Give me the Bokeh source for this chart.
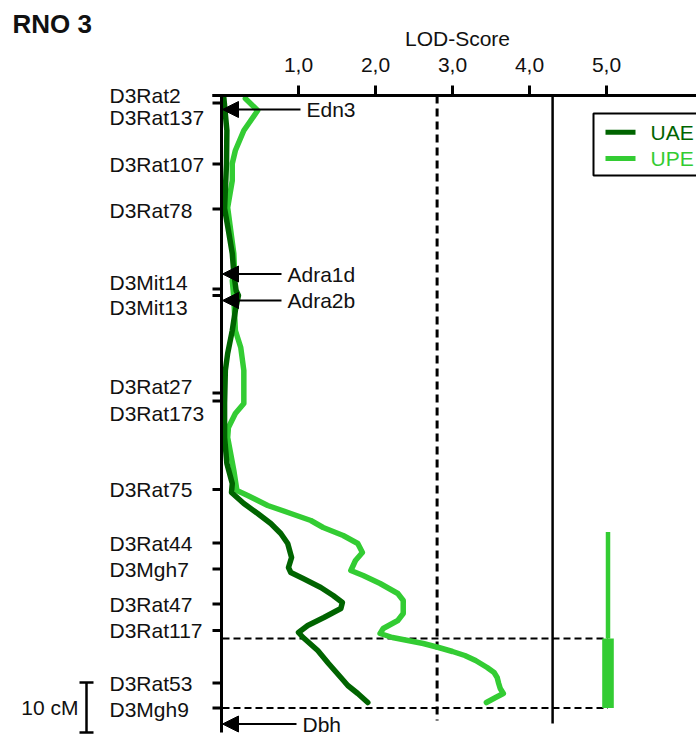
from bokeh.plotting import figure
from bokeh.models import Range1d, Arrow, NormalHead, ColumnDataSource
from bokeh.core.properties import value
from bokeh.embed import file_html
from bokeh.resources import INLINE

# ---------------- data ----------------
title_text = "RNO 3"
x_axis_title = "LOD-Score"

marker_names = ["D3Rat2", "D3Rat137", "D3Rat107", "D3Rat78", "D3Mit14", "D3Mit13",
                "D3Rat27", "D3Rat173", "D3Rat75", "D3Rat44", "D3Mgh7", "D3Rat47",
                "D3Rat117", "D3Rat53", "D3Mgh9"]
marker_cm = [0.0, 1.5, 13.7, 22.7, 38.7, 40.0, 59.5, 61.1, 78.8, 89.5, 94.7, 101.7,
             107.0, 117.5, 122.5]

gene_names = ["Edn3", "Adra1d", "Adra2b", "Dbh"]
gene_cm = [2.8, 35.7, 41.0, 125.7]

lod_ticks = [1, 2, 3, 4, 5]
lod_tick_labels = ["1,0", "2,0", "3,0", "4,0", "5,0"]

series_names = ["UAE", "UPE"]

uae_cm = [0.4, 7.0, 13.6, 19.0, 22.6, 27.0, 31.6, 35.6, 39.0, 40.0, 43.0, 47.0, 51.6,
          55.0, 61.6, 68.4, 73.6, 77.6, 79.4, 81.6, 83.6, 85.6, 87.6, 89.6, 92.4, 94.4,
          95.4, 96.6, 98.4, 100.0, 101.4, 102.6, 104.4, 106.0, 107.4, 108.4, 111.0,
          113.6, 116.4, 118.0, 119.6, 121.4]
uae_lod = [0.03, 0.07, 0.065, 0.05, 0.04, 0.09, 0.14, 0.16, 0.19, 0.22, 0.18, 0.14, 0.08,
           0.05, 0.04, 0.04, 0.07, 0.14, 0.13, 0.29, 0.47, 0.64, 0.77, 0.86, 0.91, 0.87,
           0.90, 1.06, 1.29, 1.45, 1.57, 1.55, 1.33, 1.12, 1.00, 1.06, 1.25,
           1.39, 1.55, 1.64, 1.77, 1.90]

upe_cm = [0.6, 3.0, 7.0, 11.0, 13.6, 17.0, 22.4, 27.0, 31.6, 35.6, 37.0, 40.4, 47.0,
          50.4, 55.0, 61.6, 63.6, 66.4, 68.4, 75.0, 79.0, 80.0, 82.0, 83.6, 85.0, 86.4,
          88.0, 89.6, 91.4, 93.0, 95.0, 96.0, 97.6, 99.6, 101.0, 103.6, 105.0, 106.6,
          107.6, 108.4, 109.0, 109.6, 110.4, 111.2, 112.0, 113.0, 114.4, 115.4, 116.4,
          117.6, 118.6, 119.6, 120.4, 121.4]
upe_lod = [0.31, 0.47, 0.29, 0.18, 0.14, 0.14, 0.08, 0.12, 0.16, 0.17, 0.14, 0.16, 0.18,
           0.25, 0.29, 0.29, 0.18, 0.09, 0.08, 0.16, 0.20, 0.34, 0.60, 0.90, 1.16, 1.32,
           1.58, 1.77, 1.83, 1.74, 1.68, 1.84, 2.06, 2.29, 2.36, 2.36, 2.29, 2.10,
           2.06, 2.22, 2.42, 2.62, 2.82, 3.00, 3.16, 3.30, 3.45, 3.54, 3.58,
           3.60, 3.62, 3.66, 3.56, 3.44]

threshold_suggestive = 2.8
threshold_significant = 4.3
ci_inner = [108.6, 122.5]
ci_outer = [87.3, 122.5]
chrom_length = 127.4
scale_bar_cm = 10
scale_bar_text = "10 cM"

# ---------------- layout (pixels) ----------------
W, H = 696, 734
PX_LOD = 77.0
PX_CM = 5.0
ORIGIN_X = 221.0
ORIGIN_Y = 95.0


def lx(px):
    return (px - ORIGIN_X) / PX_LOD


def cy(px):
    return (px - ORIGIN_Y) / PX_CM


FONT = value("Liberation Sans")
FS = "21px"
TXT = "#111111"
DARK = "#006400"
LIGHT = "#33CC33"

label_nudge_px = [0, 14, 0, 1, -7, 12, -7, 12, 0, 0, 0, 0, 0, 0, 1]
gene_text_px = [306, 287, 287, 302]
TICK_LEN = 9
BAR_X = lx(607.5)

p = figure(width=W, height=H, x_range=Range1d(lx(0), lx(W)), y_range=Range1d(cy(H), cy(0)),
           output_backend="svg", toolbar_location=None, min_border=0,
           x_axis_location=None, y_axis_location=None, outline_line_color=None,
           background_fill_color="white", border_fill_color="white")
p.xgrid.visible = False
p.ygrid.visible = False

# threshold lines
p.segment(x0=[threshold_suggestive], y0=[0], x1=[threshold_suggestive], y1=[cy(720)],
          line_color="black", line_width=3, line_dash="8 5")
p.segment(x0=[threshold_significant], y0=[0], x1=[threshold_significant], y1=[cy(723)],
          line_color="black", line_width=2.5)

# confidence interval dashed guides
p.segment(x0=[lx(222)] * 2, y0=ci_inner, x1=[BAR_X] * 2, y1=ci_inner,
          line_color="black", line_width=1.8, line_dash="7 4")

# confidence interval bars
p.segment(x0=[BAR_X], y0=[ci_outer[0]], x1=[BAR_X], y1=[ci_inner[0]],
          line_color=LIGHT, line_width=4.5)
p.vbar(x=[BAR_X], width=11.6 / PX_LOD, bottom=[ci_inner[0]], top=[ci_inner[1]],
       fill_color=LIGHT, line_color=None)

# LOD curves
p.line(upe_lod, upe_cm, line_color=LIGHT, line_width=5.5, line_join="round", line_cap="round")
p.line(uae_lod, uae_cm, line_color=DARK, line_width=5.5, line_join="round", line_cap="round")

# chromosome axis and top LOD axis
p.segment(x0=[0], y0=[0], x1=[0], y1=[chrom_length], line_color="black", line_width=3)
p.segment(x0=[-TICK_LEN / PX_LOD], y0=[0], x1=[lx(W + 5)], y1=[0], line_color="black", line_width=3)
p.segment(x0=[-TICK_LEN / PX_LOD] * len(marker_cm), y0=marker_cm, x1=[0] * len(marker_cm),
          y1=marker_cm, line_color="black", line_width=3)
p.segment(x0=lod_ticks, y0=[0] * len(lod_ticks), x1=lod_ticks, y1=[-10 / PX_CM] * len(lod_ticks),
          line_color="black", line_width=3)
p.text(x=lod_ticks, y=[cy(64)] * len(lod_ticks), text=lod_tick_labels, text_font=FONT,
       text_font_size=FS, text_align="center", text_baseline="middle", text_color=TXT)
p.text(x=[lx(457)], y=[cy(38)], text=[x_axis_title], text_font=FONT, text_font_size=FS,
       text_align="center", text_baseline="middle", text_color=TXT)

# title
p.text(x=[lx(12)], y=[cy(23)], text=[title_text], text_font=FONT, text_font_size="26px",
       text_font_style="bold", text_align="left", text_baseline="middle", text_color=TXT)

# marker labels
p.text(x=[lx(109)] * len(marker_cm),
       y=[m + n / PX_CM for m, n in zip(marker_cm, label_nudge_px)],
       text=marker_names, text_font=FONT, text_font_size=FS,
       text_align="left", text_baseline="middle", text_color=TXT)

# gene arrows and labels
gsrc = ColumnDataSource(dict(x0=[lx(g - 6) for g in gene_text_px],
                             x1=[lx(222)] * len(gene_cm), y=gene_cm))
p.add_layout(Arrow(end=NormalHead(size=16, fill_color="black", line_color="black", line_width=1),
                   source=gsrc, x_start="x0", y_start="y", x_end="x1", y_end="y",
                   line_color="black", line_width=2))
p.text(x=[lx(g) for g in gene_text_px], y=gene_cm, text=gene_names, text_font=FONT,
       text_font_size=FS, text_align="left", text_baseline="middle", text_color=TXT)

# scale bar
sb_top = chrom_length - scale_bar_cm
p.segment(x0=[lx(86)], y0=[sb_top], x1=[lx(86)], y1=[chrom_length], line_color="black", line_width=2.5)
p.segment(x0=[lx(79)] * 2, y0=[sb_top, chrom_length], x1=[lx(93)] * 2, y1=[sb_top, chrom_length],
          line_color="black", line_width=2.5)
p.text(x=[lx(78)], y=[(sb_top + chrom_length) / 2], text=[scale_bar_text], text_font=FONT,
       text_font_size=FS, text_align="right", text_baseline="middle", text_color=TXT)

# legend (drawn as glyphs so each label keeps its series colour)
p.quad(left=[lx(593)], right=[lx(W + 20)], top=[cy(113)], bottom=[cy(175)],
       fill_color="white", line_color="black", line_width=2)
leg_y = [cy(131.7), cy(158)]
p.segment(x0=[lx(605)] * 2, y0=leg_y, x1=[lx(635)] * 2, y1=leg_y,
          line_color=[DARK, LIGHT], line_width=5)
p.text(x=[lx(650)] * 2, y=leg_y, text=series_names, text_font=FONT, text_font_size=FS,
       text_align="left", text_baseline="middle", text_color=[DARK, LIGHT])

open("out.html", "w").write(file_html(p, INLINE))
